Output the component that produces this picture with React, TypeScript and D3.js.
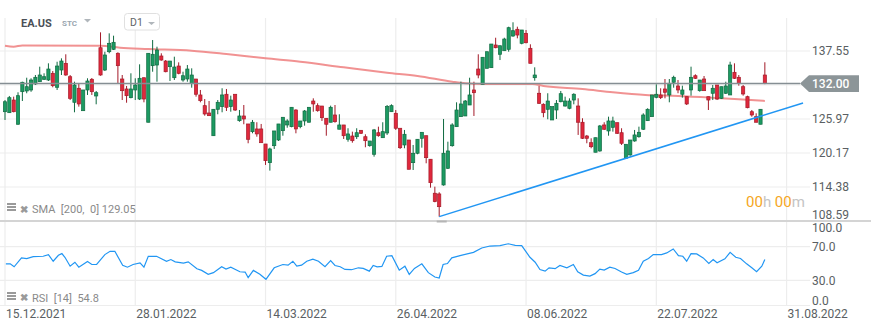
import React from "react";
import * as d3 from "d3";

// ---- data ----
const opens = [127.21,127.04,129.20,125.07,130.62,130.74,130.91,131.93,132.32,132.73,132.61,133.75,131.37,134.31,135.45,133.17,128.81,131.20,127.38,130.91,132.73,129.89,138.11,134.31,137.43,137.84,137.16,132.78,131.08,129.60,130.91,129.37,133.00,125.41,135.05,135.16,136.70,135.84,134.88,133.00,134.99,132.61,132.78,132.05,132.78,130.06,128.24,126.99,123.12,127.62,128.07,130.18,128.07,130.18,125.68,126.48,125.12,123.81,124.27,124.27,121.71,118.53,121.42,122.39,123.98,124.95,124.66,127.50,124.66,125.63,125.41,129.03,128.24,128.18,126.09,125.41,126.65,124.22,124.95,122.51,123.07,122.95,124.04,122.95,121.42,119.96,123.63,122.78,123.59,127.21,126.94,124.39,121.54,122.39,118.53,120.13,122.68,123.12,119.11,113.32,113.20,114.73,117.57,121.42,124.66,126.36,126.48,128.35,130.91,134.48,131.88,134.60,134.71,138.57,136.99,137.60,137.84,140.10,141.25,138.86,140.56,138.01,133.00,130.35,128.47,127.62,125.80,127.50,128.91,128.18,127.79,129.20,128.18,125.41,123.07,121.93,120.30,120.52,124.95,123.93,124.55,125.34,123.63,119.28,119.84,122.22,122.95,124.22,125.68,126.36,129.66,130.06,131.08,130.06,132.22,131.59,130.18,129.77,130.91,133.34,130.79,132.78,129.77,130.35,131.76,129.49,130.35,130.06,133.92,133.07,131.47,129.77,127.21,126.36,125.07,133.46];
const highs = [129.20,129.89,129.77,130.52,132.32,133.00,132.90,133.46,134.88,133.75,135.45,134.14,135.72,136.30,136.99,133.46,132.32,132.05,130.91,132.90,132.95,130.74,140.73,137.43,140.56,140.16,137.33,133.46,131.59,133.75,132.90,135.28,133.00,137.16,139.42,138.28,137.16,136.01,135.84,136.58,135.62,134.02,135.16,134.60,132.78,130.91,129.37,129.03,127.62,129.20,131.20,131.08,129.94,130.18,127.50,128.35,125.12,125.80,125.41,125.12,121.71,121.08,123.93,125.12,126.26,125.92,127.96,127.62,125.63,127.50,127.96,129.49,128.64,128.18,126.09,128.24,128.35,126.77,124.95,124.39,123.81,124.39,124.04,123.36,122.22,124.27,124.66,125.41,128.35,128.47,127.50,124.39,124.10,122.39,121.54,122.51,123.70,123.12,119.11,114.44,113.49,125.97,122.10,125.24,128.81,132.32,129.20,133.00,132.32,136.99,136.48,137.43,138.74,139.81,138.45,139.81,141.69,142.44,141.69,141.13,141.13,138.69,134.77,131.59,128.64,130.35,128.07,129.20,130.74,129.77,129.49,130.35,129.49,126.09,123.25,122.68,122.78,124.95,125.41,126.36,126.36,125.34,124.39,121.66,122.39,124.10,124.66,126.94,127.79,130.06,131.88,131.20,132.78,132.78,133.34,132.61,131.64,129.77,134.88,133.58,132.61,133.29,129.77,131.76,131.76,131.47,132.32,135.72,135.45,133.46,131.76,129.94,127.50,126.94,127.62,135.63];
const lows = [125.80,127.00,127.10,125.00,129.03,130.35,130.60,131.76,132.30,132.61,132.44,131.37,130.91,133.46,133.34,129.20,127.11,128.07,127.38,130.06,130.06,128.47,133.34,134.14,137.16,137.72,132.05,129.20,128.74,129.49,129.20,129.20,128.81,125.41,134.02,132.32,135.90,133.92,132.44,132.61,133.58,132.32,132.32,131.30,129.77,128.81,126.53,126.48,123.12,126.77,127.11,127.33,127.21,127.33,125.50,125.07,121.83,123.53,122.95,121.93,118.14,117.17,120.86,122.22,123.12,124.48,124.55,123.53,124.39,124.83,125.41,127.21,127.21,125.63,123.12,125.41,125.34,124.22,122.56,122.10,121.93,122.56,123.42,121.15,121.25,119.55,122.95,122.78,123.25,127.21,124.10,120.86,120.98,117.40,117.28,119.96,121.08,118.42,114.27,111.78,109.33,114.61,117.45,121.25,124.66,126.36,126.48,128.35,126.48,132.90,131.88,134.60,134.71,138.01,136.01,137.60,137.43,139.98,139.71,138.69,138.86,135.45,132.49,128.53,126.26,125.92,125.80,125.97,128.81,128.07,127.62,128.47,123.25,122.56,121.83,120.98,120.30,120.40,124.10,123.12,123.81,123.42,121.54,119.28,119.72,122.10,122.78,124.10,125.63,126.36,129.49,129.37,129.49,128.81,131.30,130.35,129.60,128.35,129.94,132.78,130.62,130.79,127.50,129.20,129.20,129.37,130.23,130.06,132.78,131.64,129.94,127.79,126.36,125.41,125.07,131.90];
const closes = [128.91,129.60,127.21,129.94,132.22,131.47,132.61,133.07,133.46,133.17,134.48,131.64,134.99,135.84,133.46,129.49,131.76,128.53,130.91,132.44,130.62,130.45,133.46,136.87,138.86,139.03,135.05,130.79,129.94,131.08,131.76,132.90,129.37,137.16,136.99,137.72,136.01,134.02,135.84,134.82,133.75,133.34,134.48,133.46,130.18,129.09,126.82,126.53,127.62,128.81,130.06,127.96,129.20,127.50,126.48,125.97,122.51,125.41,123.42,121.93,118.87,120.86,123.93,125.12,126.26,125.63,127.96,124.27,125.63,127.33,127.96,128.53,127.38,126.19,125.07,127.96,125.51,124.95,123.12,123.42,122.27,123.63,123.53,122.27,122.22,124.10,123.12,123.81,128.07,128.24,124.39,121.08,123.36,117.40,120.13,122.51,123.70,119.38,115.12,111.89,111.03,120.13,120.52,124.95,127.50,128.53,129.03,130.06,130.45,133.46,136.48,137.43,138.74,138.11,138.45,139.59,141.52,141.01,140.27,141.13,138.96,135.45,133.46,128.64,127.04,129.03,128.07,128.64,130.28,129.03,129.03,130.18,125.41,122.68,122.68,121.25,122.78,124.78,124.22,125.63,125.63,123.53,121.83,121.66,122.39,123.25,123.70,126.65,127.62,130.06,130.18,129.60,130.52,132.05,133.07,130.91,130.91,128.53,133.07,132.90,132.61,130.79,129.20,131.20,129.37,131.47,131.59,135.16,132.90,132.05,130.23,127.89,126.65,125.41,127.62,132.00];

const smaIdx = [0,2,4,22,26.5,33,43,51,60,68,78,88,95,103,106,110,121.5,124,133,140,147.5,155,162.8,169,175];
const smaVal = [138.45,138.28,138.49,138.45,138.11,137.89,137.6,137.04,136.31,135.73,134.77,133.85,133.29,132.32,132.05,131.93,131.93,131.59,131.08,130.52,130.06,129.89,129.6,129.33,129.05];

const rsiIdx = [0.2,1.2,2.1,3.8,5.0,6.5,8.8,10.0,11.1,12.3,13.1,13.8,15.0,16.1,17.0,19.0,20.0,21.1,23.0,24.2,25.3,27.1,28.2,29.5,31.1,32.0,33.0,34.9,37.2,38.2,39.2,41.1,42.2,44.2,45.3,46.8,48.0,49.9,50.9,52.0,54.1,55.3,56.0,57.2,58.7,60.1,62.0,64.0,65.2,66.3,67.2,68.3,69.5,70.9,72.2,73.7,75.0,76.0,77.2,78.3,79.8,81.4,82.5,83.9,84.8,85.7,86.8,87.9,89.1,90.8,92.1,93.1,94.3,96.0,97.5,99.0,100.0,100.9,101.9,102.9,104.8,107.9,109.8,111.7,114.0,115.9,117.5,119.0,120.9,122.1,123.2,124.4,125.3,126.7,127.8,129.4,130.9,131.9,133.2,134.7,135.9,137.0,138.0,139.3,140.5,142.0,143.2,144.7,145.9,147.0,148.2,149.3,151.2,152.4,153.9,155.1,156.1,157.0,158.0,159.3,160.8,162.1,163.1,164.0,165.8,167.0,168.3,169.4,170.8,172.0,173.1,174.3,175];
const rsiVal = [49.6,49.6,46.1,56.7,55.9,58.2,58.6,60.6,52.7,59.8,61.8,57.4,46.8,51.5,45.6,52.4,48.8,48.8,60.6,64.5,64.5,48.0,45.6,48.8,50.8,45.6,58.6,58.6,52.7,54.7,52.0,50.4,52.0,43.8,41.8,37.1,39.1,46.1,43.3,45.6,40.2,39.8,33.2,41.8,37.1,31.2,44.9,48.8,48.0,52.7,46.8,48.0,52.7,55.1,52.7,46.1,53.5,47.6,46.1,42.9,42.6,44.9,44.1,40.9,47.6,46.1,46.5,58.6,59.4,42.1,46.8,37.1,44.1,49.6,39.1,33.9,32.7,48.8,50.0,56.7,59.4,63.3,68.5,70.8,71.2,73.5,71.5,71.2,57.4,51.5,42.9,40.9,44.9,43.8,47.6,44.9,48.8,40.2,36.2,35.1,37.9,43.3,42.1,45.6,44.1,39.8,37.1,39.1,41.8,52.7,55.9,60.6,60.6,62.6,67.3,59.4,58.6,52.7,61.8,61.4,56.7,50.0,54.7,50.8,55.5,63.3,57.4,55.9,49.6,44.9,40.2,46.8,54.8];

const dateLabels = ["15.12.2021","28.01.2022","14.03.2022","26.04.2022","08.06.2022","22.07.2022","31.08.2022"];
const dateIdx = [0,30,60,90,120,150,180];
const priceTicks = [137.55,131.76,125.97,120.17,114.38,108.59];
const rsiTicks = [100,70,30,0];
const trendIdx = [100,183.8];
const trendVal = [109.33,128.7];
const lastPrice = 132.0;

const GREEN = "#1c9a62";
const GREEN_D = "#0f6a40";
const RED = "#e0283c";
const RED_D = "#a31a28";
const GRID = "#ededed";
const FONT = "Roboto, 'Noto Sans', Arial, sans-serif";

export default function App() {
  const W = 871, H = 331;
  const x = d3.scaleLinear().domain([0, 150]).range([5, 656.3]);
  const y = d3.scaleLinear().domain([108.59, 137.55]).range([221, 51]);
  const yr = d3.scaleLinear().domain([0, 100]).range([305.5, 221.5]);

  const sma = d3.line<number>().x((d, i) => x(smaIdx[i])).y((d) => y(d)).curve(d3.curveMonotoneX)(smaVal) || "";
  const rsi = d3.line<number>().x((d, i) => x(rsiIdx[i])).y((d) => yr(d))(rsiVal) || "";
  const trend = d3.line<number>().x((d, i) => x(trendIdx[i])).y((d) => y(d))(trendVal) || "";

  const gridRight = 810;
  const yLast = y(lastPrice);

  return (
    <div style={{ position: "absolute", left: 0, top: 0 }}>
      <svg width={W} height={H} style={{ display: "block", background: "#fff", fontFamily: FONT }}>
        <defs>
          <clipPath id="mainClip"><rect x={0} y={18} width={gridRight} height={203} /></clipPath>
        </defs>
        {/* horizontal grid main */}
        {priceTicks.map((t) => (
          <line key={"hg" + t} x1={0} x2={gridRight} y1={y(t)} y2={y(t)} stroke={GRID} strokeWidth={1.2} />
        ))}
        {/* rsi grid */}
        {[70, 30, 0].map((t) => (
          <line key={"rg" + t} x1={0} x2={gridRight} y1={yr(t)} y2={yr(t)} stroke={GRID} strokeWidth={1.2} />
        ))}
        {/* vertical grid */}
        {dateIdx.map((d) => (
          <line key={"vg" + d} x1={x(d)} x2={x(d)} y1={18} y2={305.5} stroke={GRID} strokeWidth={1.2} />
        ))}
        {/* separator */}
        <line x1={0} x2={W} y1={221} y2={221} stroke="#d4d4d4" strokeWidth={2} />

        <g clipPath="url(#mainClip)">
          {/* SMA */}
          <path d={sma} fill="none" stroke="#ef7f7f" strokeOpacity={0.85} strokeWidth={2} />
          {/* candles */}
          {opens.map((o, i) => {
            const c = closes[i];
            const up = c >= o;
            const cx = x(i);
            const top = y(Math.max(o, c));
            const bot = y(Math.min(o, c));
            return (
              <g key={i}>
                <line x1={cx} x2={cx} y1={y(highs[i])} y2={y(lows[i])} stroke={up ? GREEN_D : RED_D} strokeWidth={1} />
                <rect x={cx - 1.6} y={top} width={3.2} height={Math.max(1, bot - top)} fill={up ? GREEN : RED} stroke={up ? GREEN_D : RED_D} strokeWidth={0.7} />
              </g>
            );
          })}
          {/* trendline */}
          <path d={trend} fill="none" stroke="#2196f3" strokeWidth={1.5} />
        </g>
        {/* trend anchor handle */}
        <rect x={x(trendIdx[0]) - 2.5} y={220.5} width={10} height={2} fill="#b5b5b5" />

        {/* last price line */}
        <line x1={0} x2={800} y1={yLast} y2={yLast} stroke="#858e93" strokeWidth={1.5} />
        {/* price axis labels */}
        {priceTicks.map((t) => (
          <text key={"pl" + t} x={812} y={Math.min(y(t), 215)} dy="0.36em" fontSize={12} fill="#5a5f63">{t.toFixed(2)}</text>
        ))}
        {/* last price tag */}
        <path d={`M800,${yLast} L809,${yLast - 8.4} L859,${yLast - 8.4} L859,${yLast + 8.4} L809,${yLast + 8.4} Z`} fill="#8c9598" />
        <text x={812} y={yLast} dy="0.36em" fontSize={12} fill="#fff" fontWeight={500}>{lastPrice.toFixed(2)}</text>

        {/* RSI */}
        <path d={rsi} fill="none" stroke="#2196f3" strokeWidth={1.2} />
        {rsiTicks.map((t) => (
          <text key={"rl" + t} x={812} y={Math.max(228, Math.min(yr(t), 300.5))} dy="0.36em" fontSize={12} fill="#5a5f63">{t.toFixed(1)}</text>
        ))}

        {/* date labels */}
        {dateLabels.map((l, i) => (
          <text key={l} x={x(dateIdx[i]) + 1} y={317.5} fontSize={12} fill="#5a5f63">{l}</text>
        ))}

        {/* header */}
        <text x={21} y={26.7} fontSize={11} fontWeight={700} fill="#4b5057">EA.US</text>
        <text x={62} y={25.8} fontSize={8} fontWeight={700} fill="#9aa6b0">STC</text>
        <path d="M84,19 L91,19 L87.5,22.5 Z" fill="#b0b6bb" />
        <rect x={124.5} y={13.5} width={35} height={16.5} rx={3} fill="#fff" stroke="#e0e0e0" />
        <text x={130} y={26.3} fontSize={10.5} fill="#5f6468">D1</text>
        <path d="M148,22 L155,22 L151.5,25 Z" fill="#b0b6bb" />

        {/* SMA legend */}
        <g fill="#9a9a9a">
          <rect x={7} y={203} width={9} height={2} />
          <rect x={7} y={206} width={9} height={2} />
          <rect x={7} y={209} width={9} height={2} />
        </g>
        <text x={20} y={212.5} fontSize={10} fill="#9a9a9a" fontWeight={700}>✖</text>
        <text x={32} y={212.5} fontSize={11} fill="#8a8a8a" style={{ whiteSpace: "pre" }}>SMA  [200,  0] 129.05</text>

        {/* RSI legend */}
        <g fill="#9a9a9a">
          <rect x={7} y={292} width={9} height={2} />
          <rect x={7} y={295} width={9} height={2} />
          <rect x={7} y={298} width={9} height={2} />
        </g>
        <text x={20} y={301} fontSize={10} fill="#9a9a9a" fontWeight={700}>✖</text>
        <text x={32} y={301.5} fontSize={11} fill="#8a8a8a" style={{ whiteSpace: "pre" }}>RSI  [14]  54.8</text>

        {/* countdown */}
        <text x={746} y={206.5} fontSize={15}>
          <tspan fill="#f5a623">00</tspan>
          <tspan fill="#c4c4c4">h </tspan>
          <tspan fill="#f5a623">00</tspan>
          <tspan fill="#c4c4c4">m</tspan>
        </text>
      </svg>
    </div>
  );
}
